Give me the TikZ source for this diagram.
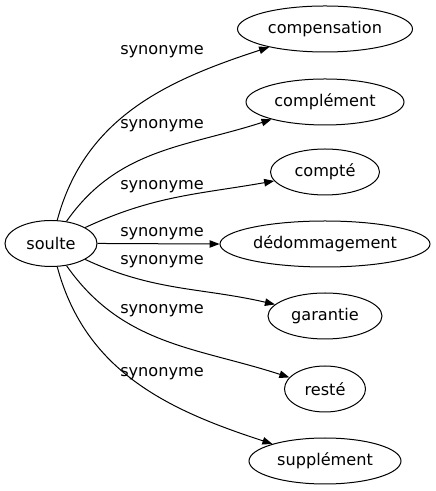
\documentclass[tikz,border=0pt]{standalone}
\usepackage{fontspec}
\setmainfont{DejaVu Sans}
\usepackage{tikz}
\usetikzlibrary{shapes.geometric,arrows.meta}

\begin{document}
\begin{tikzpicture}[x=0.75pt,y=0.75pt,wnode/.style={ellipse,draw,line width=0.75pt,minimum width=#1*0.75pt,minimum height=34.5pt,inner sep=0pt,font=\fontsize{12.1}{14}\selectfont},synlabel/.style={inner sep=0pt,font=\fontsize{12.1}{14}\selectfont},synarrow/.style={draw,line width=0.75pt,-{Triangle[length=7.5pt,width=5.6pt]}}]
\useasboundingbox (0,0) rectangle (435,491);
\node[wnode=92](soulte) at(51,247.5) {soulte};
\foreach \n/\t/\w/\y in %
{compensation/compensation/175/462,complement/complément/158/389,compte/compté/109/319,dedommagement/dédommagement/210/247,garantie/garantie/114/175,reste/resté/81/102,supplement/supplément/152/30} {
   \node[wnode=\w](\n) at(325,\y) {\t};
}
\foreach \n/\o/\i in %
{compensation/75/198,complement/55/198,compte/25/190,dedommagement/0/180,garantie/-25/167,reste/-55/162,supplement/-75/162} {
   \draw[synarrow] (soulte) to[out=\o,in=\i] (\n);
}
\foreach \k/\y in %
{1/439,2/365,3/304,4/257,5/229,6/180,7/117} {
   \node[synlabel](syn\k) at(162,\y) {synonyme};
}
\end{tikzpicture}
\end{document}
